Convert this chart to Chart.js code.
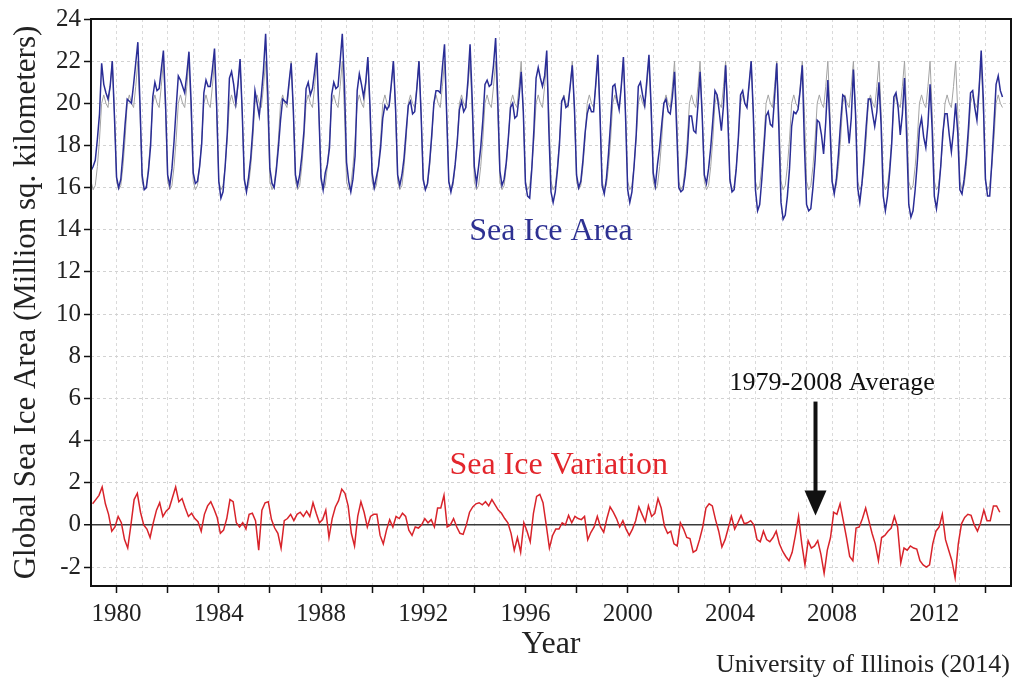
<!DOCTYPE html>
<html>
<head>
<meta charset="utf-8">
<title>Global Sea Ice Area</title>
<script src="https://cdn.jsdelivr.net/npm/chart.js@4.4.1/dist/chart.umd.min.js"></script>
<style>
  html, body { margin: 0; padding: 0; background: #fff; }
  #wrap { width: 1017px; height: 680px; }
</style>
</head>
<body>
<div id="wrap"><canvas id="chart"></canvas></div>
<script>
const firstYear = 1979;

// tick labels
const yearLabels = [1980, 1984, 1988, 1992, 1996, 2000, 2004, 2008, 2012];
const areaLabels = [-2, 0, 2, 4, 6, 8, 10, 12, 14, 16, 18, 20, 22, 24];

// 1979-2008 average, value on the 1st of each month (Jan..Dec)
const averageCycle = [16.3, 15.9, 16.1, 17.0, 18.3, 20.0, 20.4, 20.0, 19.8, 20.8, 22.0, 19.6];

// global sea ice area, one row per year, value on the 1st of each month
const seaIceArea = [
  [16.8, 17.0, 17.3, 18.3, 19.5, 21.9, 20.9, 20.5, 20.2, 20.8, 22.0, 19.4],
  [16.5, 16.0, 16.4, 17.6, 19.0, 20.2, 20.1, 20.0, 20.9, 21.9, 22.9, 20.0],
  [16.6, 15.9, 16.0, 16.8, 18.0, 20.3, 21.0, 20.6, 20.7, 21.6, 22.5, 20.0],
  [16.6, 16.1, 16.9, 18.2, 19.8, 21.3, 21.1, 20.8, 20.5, 21.4, 22.45, 20.1],
  [16.7, 16.2, 16.3, 17.0, 18.1, 20.5, 21.1, 20.8, 20.8, 21.6, 22.6, 19.9],
  [16.3, 15.5, 15.8, 17.0, 18.6, 21.2, 21.5, 20.9, 20.0, 20.9, 22.1, 19.6],
  [16.4, 15.8, 16.5, 17.4, 18.8, 20.6, 20.0, 19.4, 20.4, 21.6, 23.3, 20.5],
  [16.9, 16.2, 16.0, 16.8, 17.9, 19.2, 20.2, 20.1, 20.0, 21.0, 21.9, 19.7],
  [16.6, 16.1, 16.6, 17.5, 18.7, 20.7, 21.0, 20.4, 20.7, 21.5, 22.4, 19.6],
  [16.5, 15.9, 16.7, 17.1, 17.9, 20.4, 21.0, 20.7, 20.8, 22.0, 23.3, 20.9],
  [17.2, 16.3, 15.8, 16.4, 17.5, 20.6, 21.4, 20.9, 20.3, 21.0, 22.2, 19.9],
  [16.7, 16.0, 16.5, 17.0, 17.9, 19.3, 19.9, 19.7, 19.9, 20.9, 22.0, 19.8],
  [16.6, 16.1, 16.6, 17.4, 18.7, 19.9, 20.1, 19.5, 19.6, 20.7, 22.0, 19.5],
  [16.4, 15.9, 16.2, 17.2, 18.5, 20.0, 20.6, 20.6, 20.5, 21.7, 22.8, 19.5],
  [16.3, 15.8, 16.3, 17.1, 18.2, 19.7, 20.1, 19.6, 19.8, 21.1, 22.8, 20.2],
  [17.0, 16.2, 17.0, 17.9, 19.2, 20.9, 21.1, 20.8, 20.9, 21.8, 23.1, 20.2],
  [16.8, 16.1, 16.4, 17.2, 18.4, 19.8, 20.0, 19.3, 19.4, 20.3, 21.5, 19.6],
  [16.2, 15.6, 15.5, 16.9, 18.8, 21.2, 21.7, 21.2, 20.8, 21.3, 22.5, 18.7],
  [15.8, 15.3, 15.8, 16.8, 18.1, 20.1, 20.3, 19.8, 19.9, 20.8, 21.8, 19.8],
  [16.6, 16.0, 16.3, 17.3, 18.6, 19.5, 19.9, 19.6, 19.6, 20.9, 22.3, 19.5],
  [16.1, 15.7, 16.4, 17.6, 19.1, 20.8, 20.9, 20.2, 19.7, 20.8, 22.2, 19.4],
  [15.9, 15.3, 15.8, 17.0, 18.5, 20.8, 21.0, 20.4, 19.9, 21.1, 22.3, 19.9],
  [16.7, 16.1, 17.1, 17.9, 19.0, 20.0, 20.2, 19.6, 19.5, 20.3, 21.5, 18.8],
  [16.0, 15.8, 15.9, 16.6, 17.7, 19.4, 19.4, 18.7, 18.6, 19.9, 21.5, 19.4],
  [16.6, 16.2, 16.9, 17.9, 19.2, 20.6, 20.4, 19.6, 18.7, 19.9, 21.8, 19.4],
  [16.4, 15.8, 15.9, 16.9, 18.4, 20.4, 20.6, 20.0, 19.8, 20.9, 22.0, 19.5],
  [15.9, 14.9, 15.2, 16.4, 17.9, 19.4, 19.6, 19.0, 18.9, 20.3, 21.9, 18.8],
  [15.3, 14.5, 14.7, 15.6, 16.9, 18.9, 19.6, 19.5, 19.7, 20.6, 21.8, 18.0],
  [15.2, 14.9, 15.0, 16.0, 17.3, 19.2, 19.1, 18.5, 17.6, 19.1, 21.1, 18.9],
  [16.3, 15.7, 16.4, 17.6, 19.1, 20.4, 20.3, 19.3, 18.1, 19.3, 21.6, 19.5],
  [16.0, 15.3, 16.2, 17.4, 18.9, 20.2, 20.2, 19.5, 18.9, 19.6, 21.0, 19.0],
  [15.6, 14.9, 15.6, 16.7, 18.1, 20.3, 20.5, 19.8, 18.5, 19.5, 21.2, 18.4],
  [15.2, 14.6, 14.9, 15.9, 17.2, 18.8, 19.3, 18.4, 17.9, 19.0, 20.9, 18.7],
  [15.6, 15.0, 15.8, 17.0, 18.6, 19.5, 19.5, 18.5, 17.7, 18.7, 20.0, 18.6],
  [15.9, 15.7, 16.4, 17.4, 18.8, 20.5, 20.6, 19.8, 19.2, 20.6, 22.5, 20.2],
  [16.4, 15.6, 15.6, 17.2, 19.0, 20.9, 21.3, 20.6, 20.3]
];

// departure from the 1979-2008 average, 8 samples per year
const seaIceVariation = [
  [1.0, 1.2, 1.4, 1.8, 1.0, 0.5, -0.3, -0.1],
  [0.4, 0.1, -0.7, -1.1, 0.0, 1.2, 1.5, 0.6],
  [0.0, -0.2, -0.6, 0.1, 0.7, 1.05, 0.4, 0.65],
  [0.8, 1.3, 1.8, 1.1, 1.25, 0.8, 0.4, 0.55],
  [0.3, 0.15, -0.3, 0.5, 0.9, 1.1, 0.75, 0.35],
  [-0.4, -0.25, 0.3, 1.2, 1.1, 0.1, -0.1, 0.1],
  [-0.2, 0.5, 0.55, 0.2, -1.2, 0.7, 1.05, 1.1],
  [0.25, -0.15, -0.4, -1.1, 0.2, 0.3, 0.5, 0.2],
  [0.5, 0.6, 0.4, 0.65, 0.4, 1.05, 0.55, 0.1],
  [0.25, 0.7, -0.6, 0.3, 0.85, 1.15, 1.7, 1.5],
  [0.9, -0.4, -1.0, 0.4, 1.1, 0.6, -0.1, 0.4],
  [0.5, 0.5, -0.5, -0.9, -0.25, 0.25, -0.1, 0.4],
  [0.3, 0.55, 0.4, -0.25, -0.5, -0.1, -0.15, 0.0],
  [0.3, 0.1, 0.25, -0.1, 0.8, 0.8, 1.4, -0.1],
  [0.0, 0.3, -0.1, -0.4, -0.45, 0.0, 0.6, 0.85],
  [1.0, 1.05, 0.95, 1.1, 0.9, 1.2, 0.95, 0.7],
  [0.55, 0.3, 0.1, -0.4, -1.2, -0.6, -1.3, 0.1],
  [-0.3, -0.8, 0.55, 1.35, 1.45, 1.05, 0.0, -1.1],
  [-0.5, -0.2, -0.2, 0.1, 0.0, 0.45, 0.1, 0.4],
  [0.3, 0.25, 0.4, -0.7, -0.35, -0.1, 0.4, -0.1],
  [-0.35, 0.3, 0.85, 0.6, 0.3, -0.1, 0.2, -0.2],
  [-0.5, -0.2, 0.2, 0.85, 0.5, 0.15, 0.9, 0.4],
  [0.55, 1.25, 0.8, -0.05, -0.4, -0.3, -0.9, -1.0],
  [0.1, -0.2, -0.6, -0.65, -1.3, -1.2, -0.7, -0.1],
  [0.8, 1.0, 0.9, 0.25, -0.3, -1.05, -0.7, -0.15],
  [0.4, -0.2, 0.1, 0.45, 0.05, 0.1, 0.2, 0.0],
  [-0.7, -0.8, -0.3, -0.7, -0.8, -0.6, -0.3, -0.9],
  [-1.25, -1.5, -1.7, -1.3, -0.5, 0.4, -0.9, -1.9],
  [-0.75, -1.1, -1.0, -0.75, -1.4, -2.3, -1.2, -0.6],
  [0.6, 0.5, 1.0, 0.2, -0.6, -1.5, -1.7, -0.15],
  [-0.1, 0.3, 0.8, 0.2, -0.4, -0.9, -1.7, -0.6],
  [-0.5, -0.3, -0.15, 0.4, -0.1, -1.8, -1.1, -1.2],
  [-1.0, -1.1, -1.15, -1.7, -1.9, -2.0, -1.9, -0.9],
  [-0.3, -0.1, 0.5, -0.7, -1.2, -1.7, -2.5, -0.9],
  [0.05, 0.35, 0.5, 0.45, 0.0, -0.3, 0.1, 0.7],
  [0.2, 0.2, 0.9, 0.9, 0.6]
];

const serif = '"Liberation Serif", "Times New Roman", serif';

const areaPoints = seaIceArea.flat().map((v, i) => ({ x: firstYear + i / 12, y: v }));
const averagePoints = areaPoints.map((p, i) => ({ x: p.x, y: averageCycle[i % 12] }));
const variationPoints = seaIceVariation.flat().map((v, i) => ({ x: firstYear + (i + 0.5) / 8, y: v }));

// frame, labels and the arrow
const decorations = {
  id: 'decorations',
  afterDraw(chart) {
    const { ctx, chartArea: a, scales: { x, y } } = chart;
    ctx.save();
    ctx.strokeStyle = '#111';
    ctx.lineWidth = 2;
    ctx.strokeRect(a.left, a.top, a.right - a.left, a.bottom - a.top);

    ctx.textAlign = 'center';
    ctx.textBaseline = 'middle';
    ctx.font = '32px ' + serif;
    ctx.fillStyle = '#2e3192';
    ctx.fillText('Sea Ice Area', x.getPixelForValue(1997.0), y.getPixelForValue(13.9));
    ctx.fillStyle = '#e3262c';
    ctx.fillText('Sea Ice Variation', x.getPixelForValue(1997.3), y.getPixelForValue(2.8));

    ctx.font = '26px ' + serif;
    ctx.fillStyle = '#111';
    ctx.fillText('1979-2008 Average', x.getPixelForValue(2008.0), y.getPixelForValue(6.7));

    // arrow down to the zero line
    const ax = x.getPixelForValue(2007.35);
    const top = y.getPixelForValue(5.85);
    const tip = y.getPixelForValue(0.45);
    ctx.lineWidth = 4;
    ctx.beginPath();
    ctx.moveTo(ax, top);
    ctx.lineTo(ax, tip - 20);
    ctx.stroke();
    ctx.beginPath();
    ctx.moveTo(ax - 11, tip - 25);
    ctx.lineTo(ax + 11, tip - 25);
    ctx.lineTo(ax, tip);
    ctx.closePath();
    ctx.fill();

    ctx.textAlign = 'right';
    ctx.font = '26px ' + serif;
    ctx.fillStyle = '#222';
    ctx.fillText('University of Illinois (2014)', chart.width - 7, 665);
    ctx.restore();
  }
};

new Chart(document.getElementById('chart'), {
  type: 'line',
  data: {
    datasets: [
      {
        label: 'Sea Ice Area',
        data: areaPoints,
        borderColor: '#2a2d96',
        borderWidth: 1.5,
        pointRadius: 0,
        tension: 0
      },
      {
        label: '1979-2008 Average',
        data: averagePoints,
        borderColor: '#a3a3a3',
        borderWidth: 1,
        pointRadius: 0,
        tension: 0
      },
      {
        label: 'Sea Ice Variation',
        data: variationPoints,
        borderColor: '#d8232a',
        borderWidth: 1.5,
        pointRadius: 0,
        tension: 0
      }
    ]
  },
  options: {
    responsive: true,
    maintainAspectRatio: false,
    animation: false,
    layout: { padding: { left: 0, top: 19, right: 6, bottom: 0 } },
    plugins: {
      legend: { display: false },
      tooltip: { enabled: false }
    },
    scales: {
      x: {
        type: 'linear',
        min: 1979,
        max: 2015,
        afterFit: (s) => { s.height = 94; },
        ticks: {
          stepSize: 1,
          autoSkip: false,
          maxRotation: 0,
          padding: 6,
          color: '#222',
          font: { family: serif, size: 25 },
          callback: (v) => (yearLabels.includes(v) ? String(v) : '')
        },
        grid: {
          color: '#dadada',
          lineWidth: 1,
          tickLength: 7,
          tickWidth: 1.5,
          tickColor: (c) => (c.tick && c.tick.value % 2 === 0 ? '#111' : 'rgba(0,0,0,0)')
        },
        border: { display: false, dash: [3, 3] },
        title: {
          display: true,
          text: 'Year',
          color: '#222',
          font: { family: serif, size: 32 },
          padding: { top: 0, bottom: 16 }
        }
      },
      y: {
        min: -2.9,
        max: 24,
        afterFit: (s) => { s.width = 91; },
        ticks: {
          stepSize: 1,
          includeBounds: false,
          padding: 3,
          color: '#222',
          font: { family: serif, size: 25 },
          callback: (v) => (areaLabels.includes(v) ? String(v) : '')
        },
        grid: {
          color: (c) => (c.tick && c.tick.value === 0 ? '#3a3a3a' : '#d2d2d2'),
          lineWidth: (c) => (c.tick && c.tick.value === 0 ? 1.5 : 1),
          tickLength: 7,
          tickWidth: 1.5,
          tickColor: (c) => (c.tick && areaLabels.includes(c.tick.value) ? '#111' : 'rgba(0,0,0,0)')
        },
        border: {
          display: false,
          dash: (c) => (c.tick && c.tick.value === 0 ? [] : [3, 3])
        },
        title: {
          display: true,
          text: 'Global Sea Ice Area (Million sq. kilometers)',
          color: '#222',
          font: { family: serif, size: 31 },
          padding: { top: 8, bottom: 0 }
        }
      }
    }
  },
  plugins: [decorations]
});
</script>
</body>
</html>
